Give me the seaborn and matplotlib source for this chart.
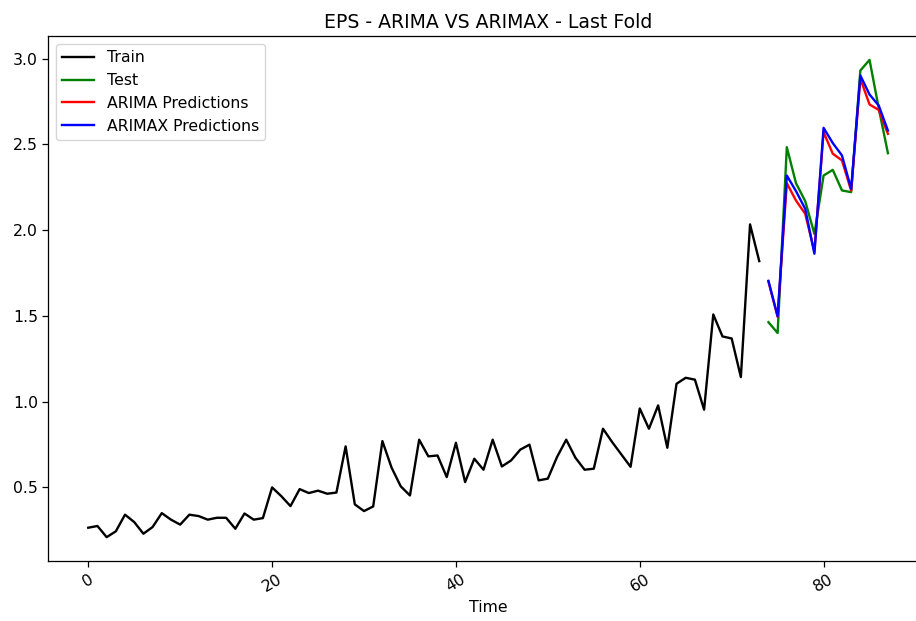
import numpy as np
import pandas as pd
import matplotlib
matplotlib.use("Agg")
import matplotlib.pyplot as plt
import seaborn as sns

# EPS values
train_eps = [0.265, 0.275, 0.21, 0.244, 0.341, 0.298, 0.23, 0.269, 0.35, 0.312,
             0.283, 0.341, 0.333, 0.312, 0.323, 0.323, 0.259, 0.348, 0.312, 0.321,
             0.5, 0.449, 0.391, 0.49, 0.467, 0.481, 0.463, 0.47, 0.739, 0.401,
             0.362, 0.389, 0.77, 0.615, 0.506, 0.453, 0.778, 0.681, 0.686, 0.56,
             0.76, 0.531, 0.667, 0.603, 0.778, 0.622, 0.657, 0.72, 0.749, 0.541,
             0.551, 0.677, 0.778, 0.673, 0.603, 0.609, 0.842, 0.764, 0.692, 0.62,
             0.96, 0.842, 0.978, 0.731, 1.104, 1.139, 1.128, 0.953, 1.508, 1.38,
             1.368, 1.143, 2.033, 1.819]
test_eps = [1.463, 1.40, 2.483, 2.273, 2.169, 1.978, 2.318, 2.351, 2.231, 2.221,
            2.93, 2.992, 2.71, 2.448]
arima_pred = [1.70, 1.495, 2.273, 2.172, 2.095, 1.875, 2.571, 2.445, 2.406, 2.23,
              2.882, 2.732, 2.70, 2.561]
arimax_pred = [1.704, 1.497, 2.318, 2.227, 2.124, 1.862, 2.596, 2.507, 2.435, 2.24,
               2.901, 2.79, 2.726, 2.58]

train_t = np.arange(len(train_eps))
test_t = np.arange(len(train_eps), len(train_eps) + len(test_eps))

# the original was rendered a bit larger and cropped on the right
scale = 1.135
plt.rcParams.update({
    "font.size": 10 * scale,
    "axes.titlesize": 12 * scale,
    "lines.linewidth": 1.5 * scale,
    "axes.linewidth": 0.8 * scale,
    "xtick.major.size": 3.5 * scale,
    "ytick.major.size": 3.5 * scale,
    "xtick.major.width": 0.8 * scale,
    "ytick.major.width": 0.8 * scale,
})

fig, ax = plt.subplots(figsize=(9.16, 6.21), dpi=100)
fig.subplots_adjust(left=0.0527, right=1.013, top=0.942, bottom=0.0966)

sns.lineplot(x=train_t, y=train_eps, color="black", label="Train", ax=ax)
sns.lineplot(x=test_t, y=test_eps, color="green", label="Test", ax=ax)
sns.lineplot(x=test_t, y=arima_pred, color="red", label="ARIMA Predictions", ax=ax)
sns.lineplot(x=test_t, y=arimax_pred, color="blue", label="ARIMAX Predictions", ax=ax)

ax.set_title("EPS - ARIMA VS ARIMAX - Last Fold")
ax.set_xlabel("Time")
ax.legend(loc="upper left")
plt.xticks(rotation=30)

fig.savefig("out.png", dpi=100)
